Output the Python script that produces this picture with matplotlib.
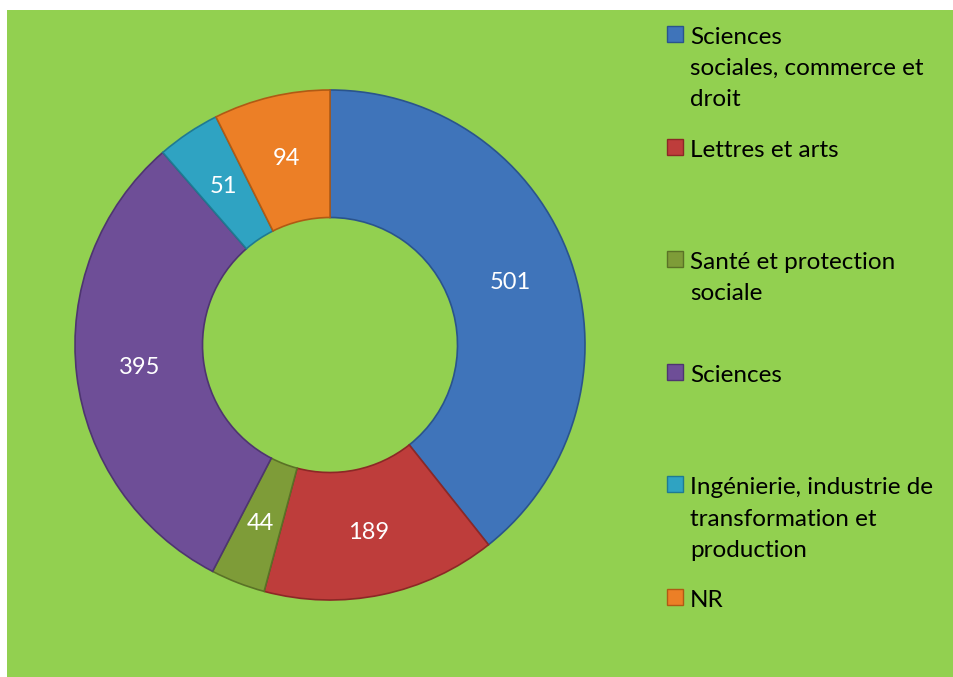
import matplotlib.pyplot as plt
from matplotlib.patches import Rectangle

categories = [
    "Sciences\nsociales, commerce et\ndroit",
    "Lettres et arts",
    "Santé et protection\nsociale",
    "Sciences",
    "Ingénierie, industrie de\ntransformation et\nproduction",
    "NR",
]
values = [501, 189, 44, 395, 51, 94]
colors = ["#3F74BA", "#BE3D3B", "#7E9C38", "#6E4E97", "#2FA3C2", "#EC7F26"]
edges = ["#2A548C", "#8C2826", "#5A7226", "#4E3570", "#1F7A92", "#B05A14"]

W, H = 954, 677
fig = plt.figure(figsize=(W / 100, H / 100), dpi=100)
fig.patch.set_facecolor("white")
fig.add_artist(Rectangle((7 / W, 0), 1, 1 - 10 / H, transform=fig.transFigure,
                         facecolor="#92D050", edgecolor="none", zorder=0))

# donut
cx, cy, r = 330, 345, 255
ax = fig.add_axes([(cx - r) / W, (H - cy - r) / H, 2 * r / W, 2 * r / H])
ax.set_axis_off()
wedges, texts = ax.pie(
    values,
    colors=colors,
    startangle=90,
    counterclock=False,
    radius=1,
    wedgeprops=dict(width=0.5, linewidth=1.2),
    labels=[str(v) for v in values],
    labeldistance=0.75,
    textprops=dict(color="white", fontsize=17, family="Lato",
                   ha="center", va="center"),
)
for w, ec in zip(wedges, edges):
    w.set_edgecolor(ec)
ax.set_xlim(-1, 1)
ax.set_ylim(-1, 1)

# legend
x_text = 690
for i, (label, col, ec) in enumerate(zip(categories, colors, edges)):
    y = 34 + 112.6 * i
    fig.add_artist(Rectangle((667 / W, 1 - (y + 8) / H), 16 / W, 16 / H,
                             transform=fig.transFigure, facecolor=col,
                             edgecolor=ec, linewidth=1))
    fig.text(x_text / W, 1 - (y - 7) / H, label, fontsize=17.5, family="Lato",
             color="black", ha="left", va="top", linespacing=1.6)

fig.savefig("out.png", dpi=100, facecolor=fig.get_facecolor())
